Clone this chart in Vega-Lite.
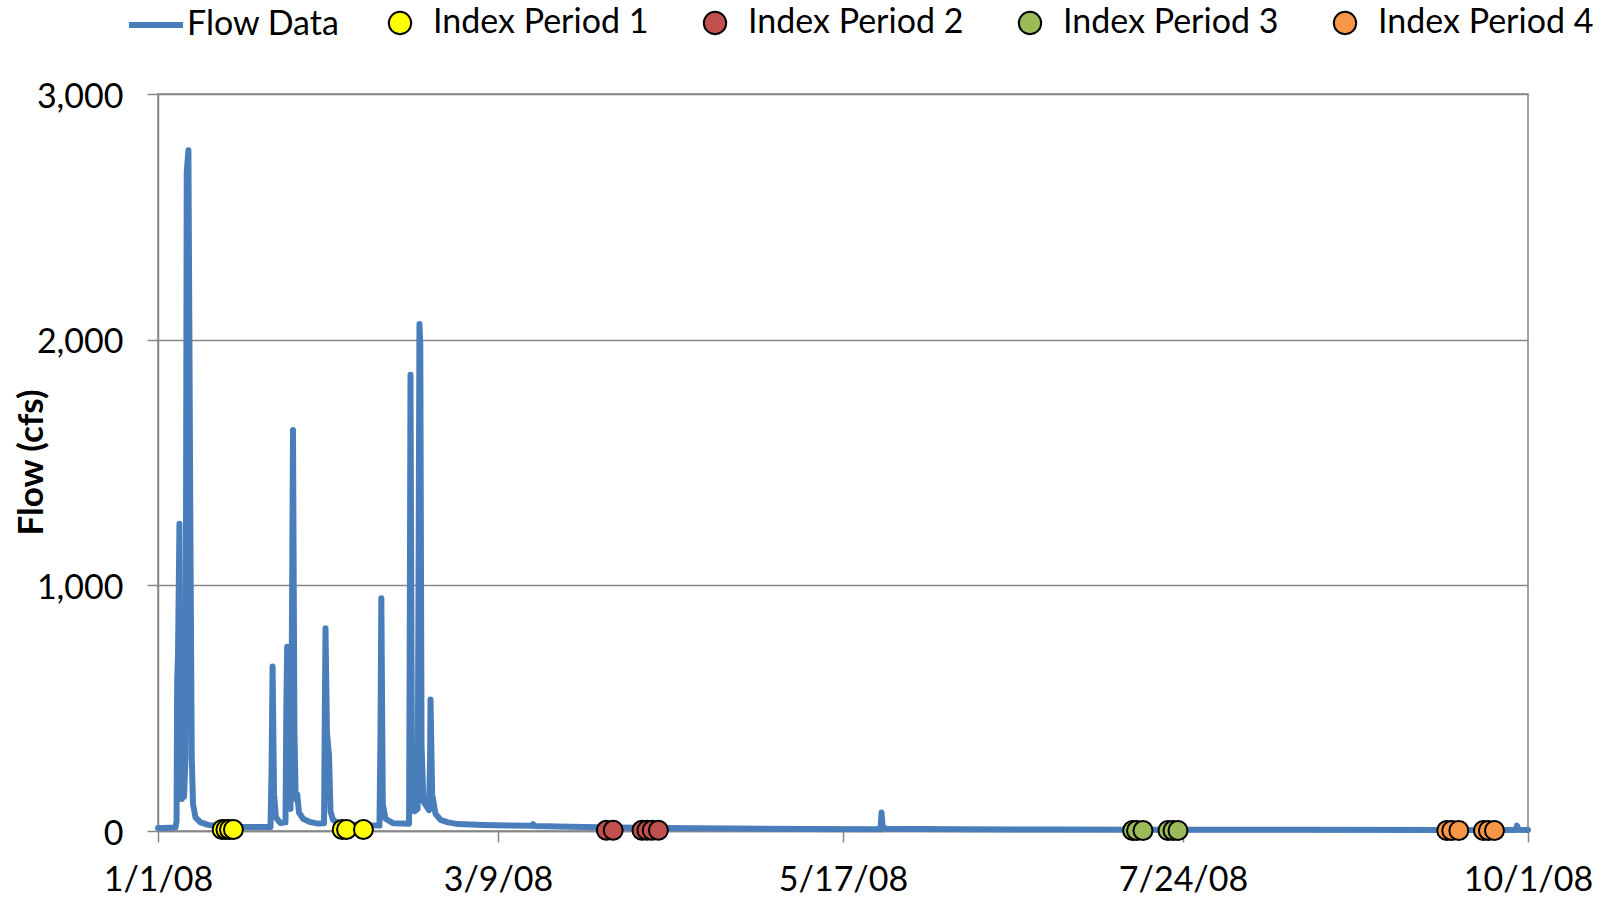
{
  "$schema": "https://vega.github.io/schema/vega-lite/v6.json",
  "autosize": "none",
  "width": 1370,
  "height": 737,
  "padding": {"left": 158, "top": 94, "right": 76, "bottom": 71},
  "background": "white",
  "config": {
    "font": "Lato",
    "view": {"stroke": "#878787", "strokeWidth": 1.5},
    "axis": {
      "domainColor": "#878787", "domainWidth": 1.5,
      "tickColor": "#878787", "tickWidth": 1.5, "tickSize": 11,
      "gridColor": "#878787", "gridWidth": 1.5,
      "labelFont": "Lato", "labelFontSize": 34, "labelColor": "black",
      "titleFont": "Lato", "titleColor": "black",
      "labelFlush": false, "labelOverlap": false, "labelBound": false
    },
    "legend": {
      "labelFont": "Lato", "labelFontSize": 34, "labelColor": "black", "labelLimit": 500
    }
  },
  "datasets": {
    "flow": [
      {"date": "2008-01-01T00:00", "flow": 12},
      {"date": "2008-01-02T00:00", "flow": 12},
      {"date": "2008-01-03T00:00", "flow": 13},
      {"date": "2008-01-04T12:00", "flow": 14},
      {"date": "2008-01-04T17:00", "flow": 40},
      {"date": "2008-01-04T20:00", "flow": 610},
      {"date": "2008-01-05T00:00", "flow": 720},
      {"date": "2008-01-05T07:00", "flow": 1251},
      {"date": "2008-01-05T12:00", "flow": 300},
      {"date": "2008-01-05T18:00", "flow": 130},
      {"date": "2008-01-06T00:00", "flow": 545},
      {"date": "2008-01-06T05:00", "flow": 140},
      {"date": "2008-01-06T12:00", "flow": 300},
      {"date": "2008-01-06T18:00", "flow": 2683},
      {"date": "2008-01-07T02:00", "flow": 2771},
      {"date": "2008-01-07T12:00", "flow": 1154},
      {"date": "2008-01-07T18:00", "flow": 300},
      {"date": "2008-01-08T00:00", "flow": 110},
      {"date": "2008-01-08T12:00", "flow": 55},
      {"date": "2008-01-09T12:00", "flow": 35},
      {"date": "2008-01-11T00:00", "flow": 25},
      {"date": "2008-01-13T00:00", "flow": 20},
      {"date": "2008-01-16T00:00", "flow": 17},
      {"date": "2008-01-20T00:00", "flow": 16},
      {"date": "2008-01-23T12:00", "flow": 16},
      {"date": "2008-01-23T17:00", "flow": 250},
      {"date": "2008-01-23T22:00", "flow": 670},
      {"date": "2008-01-24T05:00", "flow": 150},
      {"date": "2008-01-24T14:00", "flow": 55},
      {"date": "2008-01-25T12:00", "flow": 32},
      {"date": "2008-01-26T12:00", "flow": 35},
      {"date": "2008-01-26T16:00", "flow": 500},
      {"date": "2008-01-26T20:00", "flow": 750},
      {"date": "2008-01-27T05:00", "flow": 120},
      {"date": "2008-01-27T12:00", "flow": 90},
      {"date": "2008-01-27T18:00", "flow": 700},
      {"date": "2008-01-28T00:00", "flow": 1632},
      {"date": "2008-01-28T07:00", "flow": 400},
      {"date": "2008-01-28T13:00", "flow": 130},
      {"date": "2008-01-28T20:00", "flow": 150},
      {"date": "2008-01-29T05:00", "flow": 75},
      {"date": "2008-01-30T00:00", "flow": 50},
      {"date": "2008-01-31T12:00", "flow": 36},
      {"date": "2008-02-02T00:00", "flow": 30},
      {"date": "2008-02-03T05:00", "flow": 32},
      {"date": "2008-02-03T08:00", "flow": 400},
      {"date": "2008-02-03T12:00", "flow": 825},
      {"date": "2008-02-03T19:00", "flow": 400},
      {"date": "2008-02-04T05:00", "flow": 305},
      {"date": "2008-02-04T12:00", "flow": 80},
      {"date": "2008-02-05T00:00", "flow": 45},
      {"date": "2008-02-06T00:00", "flow": 33},
      {"date": "2008-02-08T00:00", "flow": 26},
      {"date": "2008-02-11T00:00", "flow": 23},
      {"date": "2008-02-14T07:00", "flow": 22},
      {"date": "2008-02-14T12:00", "flow": 400},
      {"date": "2008-02-14T16:00", "flow": 947},
      {"date": "2008-02-14T23:00", "flow": 110},
      {"date": "2008-02-15T12:00", "flow": 50},
      {"date": "2008-02-17T00:00", "flow": 32},
      {"date": "2008-02-20T05:00", "flow": 30},
      {"date": "2008-02-20T08:00", "flow": 700},
      {"date": "2008-02-20T12:00", "flow": 1857},
      {"date": "2008-02-20T19:00", "flow": 200},
      {"date": "2008-02-21T07:00", "flow": 80},
      {"date": "2008-02-21T22:00", "flow": 90},
      {"date": "2008-02-22T02:00", "flow": 900},
      {"date": "2008-02-22T07:00", "flow": 2064},
      {"date": "2008-02-22T11:00", "flow": 1980},
      {"date": "2008-02-22T17:00", "flow": 350},
      {"date": "2008-02-23T02:00", "flow": 120},
      {"date": "2008-02-24T05:00", "flow": 85},
      {"date": "2008-02-24T10:00", "flow": 300},
      {"date": "2008-02-24T12:00", "flow": 535},
      {"date": "2008-02-24T20:00", "flow": 150},
      {"date": "2008-02-25T12:00", "flow": 70},
      {"date": "2008-02-26T12:00", "flow": 45},
      {"date": "2008-02-28T00:00", "flow": 35},
      {"date": "2008-03-01T00:00", "flow": 28},
      {"date": "2008-03-06T00:00", "flow": 24},
      {"date": "2008-03-11T00:00", "flow": 22},
      {"date": "2008-03-15T19:00", "flow": 21},
      {"date": "2008-03-16T00:00", "flow": 28},
      {"date": "2008-03-16T07:00", "flow": 20},
      {"date": "2008-03-21T00:00", "flow": 18},
      {"date": "2008-03-29T00:00", "flow": 15},
      {"date": "2008-04-10T00:00", "flow": 12},
      {"date": "2008-04-25T00:00", "flow": 10},
      {"date": "2008-05-10T00:00", "flow": 8},
      {"date": "2008-05-24T12:00", "flow": 7},
      {"date": "2008-05-24T17:00", "flow": 75},
      {"date": "2008-05-24T22:00", "flow": 20},
      {"date": "2008-05-25T12:00", "flow": 9},
      {"date": "2008-06-09T00:00", "flow": 7},
      {"date": "2008-06-29T00:00", "flow": 6},
      {"date": "2008-07-19T00:00", "flow": 5},
      {"date": "2008-08-18T00:00", "flow": 5},
      {"date": "2008-09-17T00:00", "flow": 4},
      {"date": "2008-09-28T14:00", "flow": 4},
      {"date": "2008-09-28T19:00", "flow": 22},
      {"date": "2008-09-29T02:00", "flow": 5},
      {"date": "2008-10-01T00:00", "flow": 4}
    ],
    "index": [
      {"date": "2008-01-13T20:00", "flow": 6, "period": "Index Period 1"},
      {"date": "2008-01-14T14:00", "flow": 6, "period": "Index Period 1"},
      {"date": "2008-01-15T07:00", "flow": 6, "period": "Index Period 1"},
      {"date": "2008-01-16T02:00", "flow": 6, "period": "Index Period 1"},
      {"date": "2008-02-06T20:00", "flow": 6, "period": "Index Period 1"},
      {"date": "2008-02-07T17:00", "flow": 6, "period": "Index Period 1"},
      {"date": "2008-02-11T02:00", "flow": 6, "period": "Index Period 1"},
      {"date": "2008-03-30T16:00", "flow": 3, "period": "Index Period 2"},
      {"date": "2008-04-01T01:00", "flow": 3, "period": "Index Period 2"},
      {"date": "2008-04-06T19:00", "flow": 3, "period": "Index Period 2"},
      {"date": "2008-04-07T19:00", "flow": 3, "period": "Index Period 2"},
      {"date": "2008-04-08T20:00", "flow": 3, "period": "Index Period 2"},
      {"date": "2008-04-10T02:00", "flow": 3, "period": "Index Period 2"},
      {"date": "2008-07-13T22:00", "flow": 2, "period": "Index Period 3"},
      {"date": "2008-07-14T17:00", "flow": 2, "period": "Index Period 3"},
      {"date": "2008-07-16T00:00", "flow": 2, "period": "Index Period 3"},
      {"date": "2008-07-21T00:00", "flow": 2, "period": "Index Period 3"},
      {"date": "2008-07-22T00:00", "flow": 2, "period": "Index Period 3"},
      {"date": "2008-07-23T00:00", "flow": 2, "period": "Index Period 3"},
      {"date": "2008-09-14T18:00", "flow": 2, "period": "Index Period 4"},
      {"date": "2008-09-15T18:00", "flow": 2, "period": "Index Period 4"},
      {"date": "2008-09-17T04:00", "flow": 2, "period": "Index Period 4"},
      {"date": "2008-09-22T02:00", "flow": 2, "period": "Index Period 4"},
      {"date": "2008-09-23T02:00", "flow": 2, "period": "Index Period 4"},
      {"date": "2008-09-24T07:00", "flow": 2, "period": "Index Period 4"}
    ]
  },
  "encoding": {
    "x": {
      "field": "date", "type": "temporal",
      "scale": {"domain": [{"year": 2008, "month": 1, "date": 1}, {"year": 2008, "month": 10, "date": 1}], "nice": false},
      "axis": {
        "title": null, "grid": false, "format": "%-m/%-d/%y", "labelPadding": 21,
        "values": [
          {"year": 2008, "month": 1, "date": 1},
          {"year": 2008, "month": 3, "date": 9},
          {"year": 2008, "month": 5, "date": 17},
          {"year": 2008, "month": 7, "date": 24},
          {"year": 2008, "month": 10, "date": 1}
        ]
      }
    },
    "y": {
      "field": "flow", "type": "quantitative",
      "scale": {"domain": [0, 3000], "nice": false, "zero": true},
      "axis": {
        "title": "Flow (cfs)", "titleFontSize": 35, "titleFontWeight": "bold",
        "titleAngle": -90, "titleX": -127, "titleY": 368, "titleAlign": "center", "titleBaseline": "middle",
        "values": [0, 1000, 2000, 3000], "format": ",d", "grid": true, "labelPadding": 24, "labelOffset": 3
      }
    }
  },
  "layer": [
    {
      "data": {"name": "flow"},
      "mark": {"type": "line", "strokeWidth": 6, "strokeJoin": "round", "strokeCap": "round"},
      "encoding": {
        "stroke": {
          "datum": "Flow Data", "type": "nominal",
          "scale": {"domain": ["Flow Data"], "range": ["#4A7EBB"]},
          "legend": {
            "title": null, "orient": "none", "legendX": -32, "legendY": -99,
            "symbolType": "stroke", "symbolSize": 2916, "symbolStrokeWidth": 6,
            "labelOffset": 1
          }
        }
      }
    },
    {
      "data": {"name": "index"},
      "mark": {"type": "point", "shape": "circle", "filled": true, "stroke": "black", "strokeWidth": 2, "size": 360, "opacity": 1},
      "encoding": {
        "fill": {
          "field": "period", "type": "nominal",
          "scale": {
            "domain": ["Index Period 1", "Index Period 2", "Index Period 3", "Index Period 4"],
            "range": ["#FFFF00", "#C0504D", "#9BBB59", "#F79646"]
          },
          "legend": {
            "title": null, "orient": "none", "legendX": 225, "legendY": -88,
            "direction": "horizontal", "columns": 4, "columnPadding": 49, "gridAlign": "all",
            "symbolType": "circle", "symbolSize": 500, "symbolStrokeColor": "black", "symbolStrokeWidth": 2,
            "symbolOpacity": 1, "labelOffset": 16
          }
        }
      }
    }
  ]
}
